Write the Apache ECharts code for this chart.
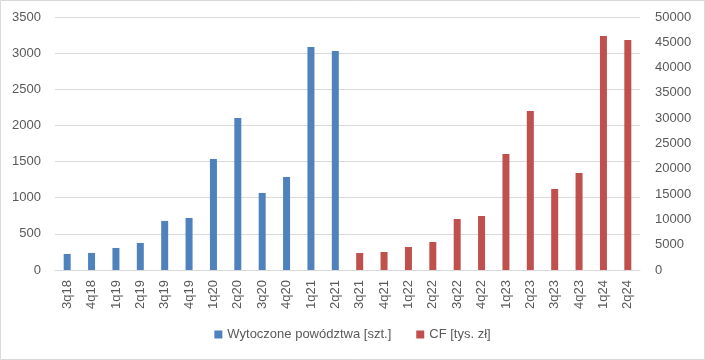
<!DOCTYPE html>
<html><head><meta charset="utf-8">
<script src="https://cdn.jsdelivr.net/npm/echarts@6/dist/echarts.min.js"></script>
<style>html,body{margin:0;padding:0;background:#fff}#c{width:705px;height:360px}</style>
</head><body><div id="c"></div>
<script>
const categories = ['3q18','4q18','1q19','2q19','3q19','4q19','1q20','2q20','3q20','4q20','1q21','2q21','3q21','4q21','1q22','2q22','3q22','4q22','1q23','2q23','3q23','4q23','1q24','2q24'];
const lawsuits = [222,236,305,374,679,720,1536,2104,1066,1287,3086,3030,null,null,null,null,null,null,null,null,null,null,null,null];
const cashflow = [null,null,null,null,null,null,null,null,null,null,null,null,3360,3560,4550,5530,10080,10670,22930,31430,16010,19170,46250,45460];
const leftTicks = [0,3500,500];
const rightTicks = [0,50000,5000];
const seriesNames = ['Wytoczone powództwa [szt.]','CF [tys. zł]'];

const font = 'Arial, "Liberation Sans", sans-serif';
const chart = echarts.init(document.getElementById('c'));
chart.setOption({
  animation:false,
  textStyle:{fontFamily:font},
  graphic:[{type:'rect',shape:{x:0.5,y:0.5,width:704,height:359},style:{fill:'none',stroke:'#d9d9d9',lineWidth:1},silent:true}],
  grid:{left:55,right:65,top:17,bottom:90},
  legend:{bottom:14,left:'center',itemWidth:8,itemHeight:8,itemGap:25,icon:'rect',
    textStyle:{color:'#595959',fontSize:13,fontFamily:font},data:seriesNames},
  xAxis:{type:'category',data:categories,
    axisLine:{lineStyle:{color:'#d9d9d9'}},axisTick:{show:false},
    axisLabel:{rotate:90,color:'#595959',fontSize:13,margin:10,interval:0}},
  yAxis:[
    {type:'value',min:leftTicks[0],max:leftTicks[1],interval:leftTicks[2],
     axisLabel:{color:'#595959',fontSize:13,margin:14,formatter:v=>String(v)},
     splitLine:{lineStyle:{color:'#d9d9d9'}},axisLine:{show:false},axisTick:{show:false}},
    {type:'value',min:rightTicks[0],max:rightTicks[1],interval:rightTicks[2],
     axisLabel:{color:'#595959',fontSize:13,margin:15,formatter:v=>String(v)},
     splitLine:{show:false},axisLine:{show:false},axisTick:{show:false}}
  ],
  series:[
    {name:seriesNames[0],type:'bar',yAxisIndex:0,data:lawsuits,barWidth:7,barGap:'-100%',itemStyle:{color:'#4f81bd'}},
    {name:seriesNames[1],type:'bar',yAxisIndex:1,data:cashflow,barWidth:7,barGap:'-100%',itemStyle:{color:'#c0504d'}}
  ]
});
</script></body></html>
